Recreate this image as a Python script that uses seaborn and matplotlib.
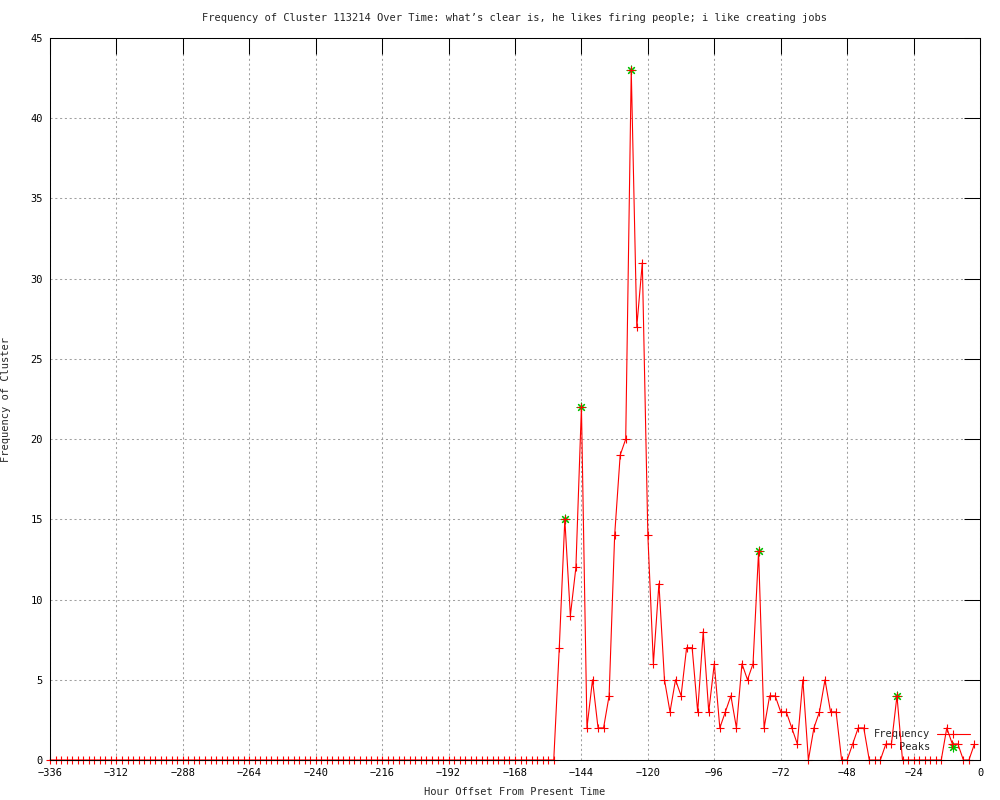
import numpy as np
import pandas as pd
import matplotlib
matplotlib.use("Agg")
import matplotlib.pyplot as plt
import seaborn as sns

# hourly offsets, one reading every 2 hours
hours = list(range(-336, 0, 2))

# -336 .. -154 are all zero, then the active stretch from -152 to -2
quiet = [0] * 92
active = [7, 15, 9, 12, 22, 2, 5, 2, 2, 4, 14, 19, 20, 43, 27, 31, 14,
          6, 11, 5, 3, 5, 4, 7, 7, 3, 8, 3, 6, 2, 3, 4, 2, 6, 5, 6, 13,
          2, 4, 4, 3, 3, 2, 1, 5, 0,
          2, 3, 5, 3, 3, 0, 0, 1, 2, 2, 0, 0, 0, 1, 1, 4, 0, 0, 0, 0,
          0, 0, 0, 0, 2, 1, 1, 0, 0, 1]
freq = quiet + active

peak_hours = [-150, -144, -126, -80, -30]
peak_vals = [15, 22, 43, 13, 4]

x_ticks = list(range(-336, 1, 24))
y_ticks = list(range(0, 46, 5))

title = "Frequency of Cluster 113214 Over Time: what\u2019s clear is, he likes firing people; i like creating jobs"

df = pd.DataFrame({"hour": hours, "freq": freq})
peaks = pd.DataFrame({"hour": peak_hours, "freq": peak_vals})

sns.set_style("white")
plt.rcParams["font.family"] = ["DejaVu Sans Mono"]
plt.rcParams["font.size"] = 7.5

fig = plt.figure(figsize=(10, 8), dpi=100)
ax = fig.add_axes([0.05, 0.05, 0.93, 0.9025])

sns.scatterplot(data=peaks, x="hour", y="freq", ax=ax, marker=(8, 2, 0),
                color="#00c000", s=40, linewidth=0.8, label="Peaks", zorder=3,
                clip_on=False)
sns.lineplot(data=df, x="hour", y="freq", ax=ax, color="red", lw=0.8,
             marker="+", markersize=6, mew=0.8, mec="red", mfc="red",
             label="Frequency", zorder=4, clip_on=False)

ax.set_xlim(-336, 0)
ax.set_ylim(0, 45)
ax.set_xticks(x_ticks)
ax.set_yticks(y_ticks)

ax.grid(True, color="#a0a0a0", linestyle=(0, (2, 2.6)), linewidth=0.75)
ax.set_axisbelow(True)
ax.tick_params(direction="in", length=11.5, width=0.75, top=True, right=True,
               colors="black", labelsize=7.5)
ax.tick_params(axis="x", pad=6)
ax.tick_params(axis="y", pad=5)
for sp in ax.spines.values():
    sp.set_linewidth(0.75)
    sp.set_color("black")
    sp.set_zorder(5)

ax.set_title(title, fontsize=7.5, pad=12)
ax.set_xlabel("Hour Offset From Present Time", fontsize=7.5, labelpad=6)
ax.set_ylabel("Frequency of Cluster", fontsize=7.5, labelpad=14)

handles, labels = ax.get_legend_handles_labels()
order = [labels.index("Frequency"), labels.index("Peaks")]
leg = ax.legend([handles[i] for i in order], [labels[i] for i in order],
                loc="lower right", bbox_to_anchor=(0.9892, 0.011),
                frameon=True, markerfirst=False, handlelength=3.2,
                handletextpad=0.6, labelspacing=0.25, borderpad=0,
                borderaxespad=0, fontsize=7.5)
leg.get_frame().set_facecolor("white")
leg.get_frame().set_edgecolor("none")
leg.get_frame().set_alpha(1)
leg.set_zorder(2.5)

fig.savefig("out.png", dpi=100)
